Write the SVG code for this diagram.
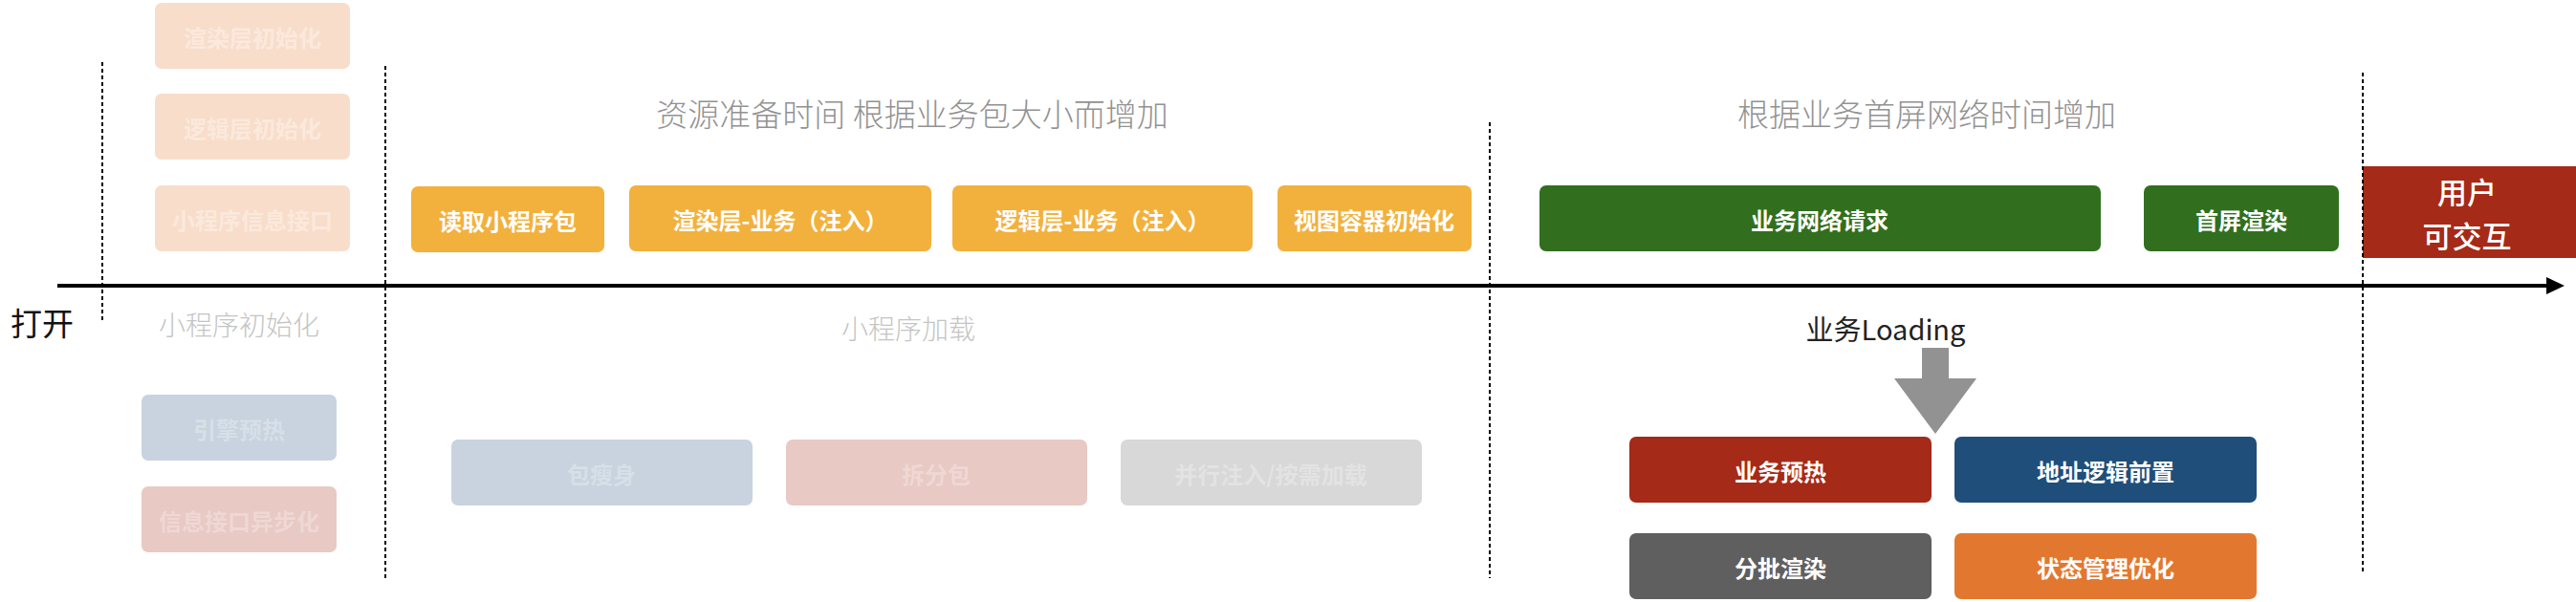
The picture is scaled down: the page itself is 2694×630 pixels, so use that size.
<svg xmlns="http://www.w3.org/2000/svg" width="2694" height="630" viewBox="0 0 2694 630">
<style>
  text { font-family: "Noto Sans CJK SC", "Noto Sans", sans-serif; dominant-baseline: central; text-anchor: middle; }
  .bx { font-size: 24px; font-weight: 700; fill: #ffffff; }
  .title { font-size: 33px; font-weight: 300; fill: #929292; }
  .faint { font-size: 28px; font-weight: 300; fill: #c4c4c4; }
  .guide { stroke: #000000; stroke-width: 2; stroke-dasharray: 4 3; fill: none; }
  .yellow { fill: #f2b13c; }
  .green { fill: #316f1f; }
  .fo { fill: #f8ddcb; } .fo-t { fill: #fbe9dc; }
  .fb { fill: #c8d3df; } .fb-t { fill: #d7dfe8; }
  .fr { fill: #e8c9c4; } .fr-t { fill: #efd8d4; }
  .fg { fill: #d8d8d8; } .fg-t { fill: #e3e3e3; }
</style>
<rect width="2694" height="630" fill="#ffffff"/>

<g id="titles">
  <text class="title" x="954" y="118">资源准备时间 根据业务包大小而增加</text>
  <text class="title" x="2015" y="118">根据业务首屏网络时间增加</text>
</g>

<g id="labels">
  <text x="44" y="337" style="font-size:33px;fill:#111111">打开</text>
  <text class="faint" x="250" y="339">小程序初始化</text>
  <text class="faint" x="950" y="343">小程序加载</text>
  <text x="1972" y="343" style="font-size:29px;fill:#222222">业务Loading</text>
</g>

<g id="n-render-init"><rect class="fo" x="162" y="3" width="204" height="69" rx="7"/><text class="bx fo-t" x="264" y="38">渲染层初始化</text></g>
<g id="n-logic-init"><rect class="fo" x="162" y="98" width="204" height="69" rx="7"/><text class="bx fo-t" x="264" y="133">逻辑层初始化</text></g>
<g id="n-info-api"><rect class="fo" x="162" y="194" width="204" height="69" rx="7"/><text class="bx fo-t" x="264" y="229">小程序信息接口</text></g>
<g id="n-engine-warm"><rect class="fb" x="148" y="413" width="204" height="69" rx="7"/><text class="bx fb-t" x="250" y="448">引擎预热</text></g>
<g id="n-info-async"><rect class="fr" x="148" y="509" width="204" height="69" rx="7"/><text class="bx fr-t" x="250" y="544">信息接口异步化</text></g>

<g id="n-read-pkg"><rect class="yellow" x="430" y="195" width="202" height="69" rx="7"/><text class="bx" x="531" y="230">读取小程序包</text></g>
<g id="n-render-biz"><rect class="yellow" x="658" y="194" width="316" height="69" rx="7"/><text class="bx" x="816" y="229">渲染层-业务（注入）</text></g>
<g id="n-logic-biz"><rect class="yellow" x="996" y="194" width="314" height="69" rx="7"/><text class="bx" x="1153" y="229">逻辑层-业务（注入）</text></g>
<g id="n-view-init"><rect class="yellow" x="1336" y="194" width="203" height="69" rx="7"/><text class="bx" x="1437" y="229">视图容器初始化</text></g>

<g id="n-net-req"><rect class="green" x="1610" y="194" width="587" height="69" rx="7"/><text class="bx" x="1903" y="229">业务网络请求</text></g>
<g id="n-first-render"><rect class="green" x="2242" y="194" width="204" height="69" rx="7"/><text class="bx" x="2344" y="229">首屏渲染</text></g>

<g id="n-interactive"><rect x="2471" y="174" width="223" height="96" fill="#a52a18"/>
  <text x="2580" y="199" style="font-size:31px;font-weight:500;fill:#ffffff">用户</text>
  <text x="2580" y="245" style="font-size:31px;font-weight:500;fill:#ffffff">可交互</text>
</g>

<g id="n-slim"><rect class="fb" x="472" y="460" width="315" height="69" rx="7"/><text class="bx fb-t" x="629" y="495">包瘦身</text></g>
<g id="n-split"><rect class="fr" x="822" y="460" width="315" height="69" rx="7"/><text class="bx fr-t" x="979" y="495">拆分包</text></g>
<g id="n-parallel"><rect class="fg" x="1172" y="460" width="315" height="69" rx="7"/><text class="bx fg-t" x="1329" y="495">并行注入/按需加载</text></g>

<g id="n-biz-warm"><rect x="1704" y="457" width="316" height="69" rx="7" fill="#a52a17"/><text class="bx" x="1862" y="492">业务预热</text></g>
<g id="n-addr"><rect x="2044" y="457" width="316" height="69" rx="7" fill="#204e7a"/><text class="bx" x="2202" y="492">地址逻辑前置</text></g>
<g id="n-batch"><rect x="1704" y="558" width="316" height="69" rx="7" fill="#5f5f5f"/><text class="bx" x="1862" y="593">分批渲染</text></g>
<g id="n-state"><rect x="2044" y="558" width="316" height="69" rx="7" fill="#e27830"/><text class="bx" x="2202" y="593">状态管理优化</text></g>

<g id="connectors">
  <line x1="60" y1="299" x2="2664" y2="299" stroke="#000000" stroke-width="4"/>
  <polygon points="2663,290 2682,299 2663,308" fill="#000000"/>
  <polygon points="2010,364 2038,364 2038,396 2067,396 2024,454 1981,396 2010,396" fill="#929292"/>
  <line class="guide" x1="107" y1="65" x2="107" y2="338"/>
  <line class="guide" x1="403" y1="69" x2="403" y2="606"/>
  <line class="guide" x1="1558" y1="128" x2="1558" y2="605"/>
  <line class="guide" x1="2471" y1="76" x2="2471" y2="601"/>
</g>
</svg>
